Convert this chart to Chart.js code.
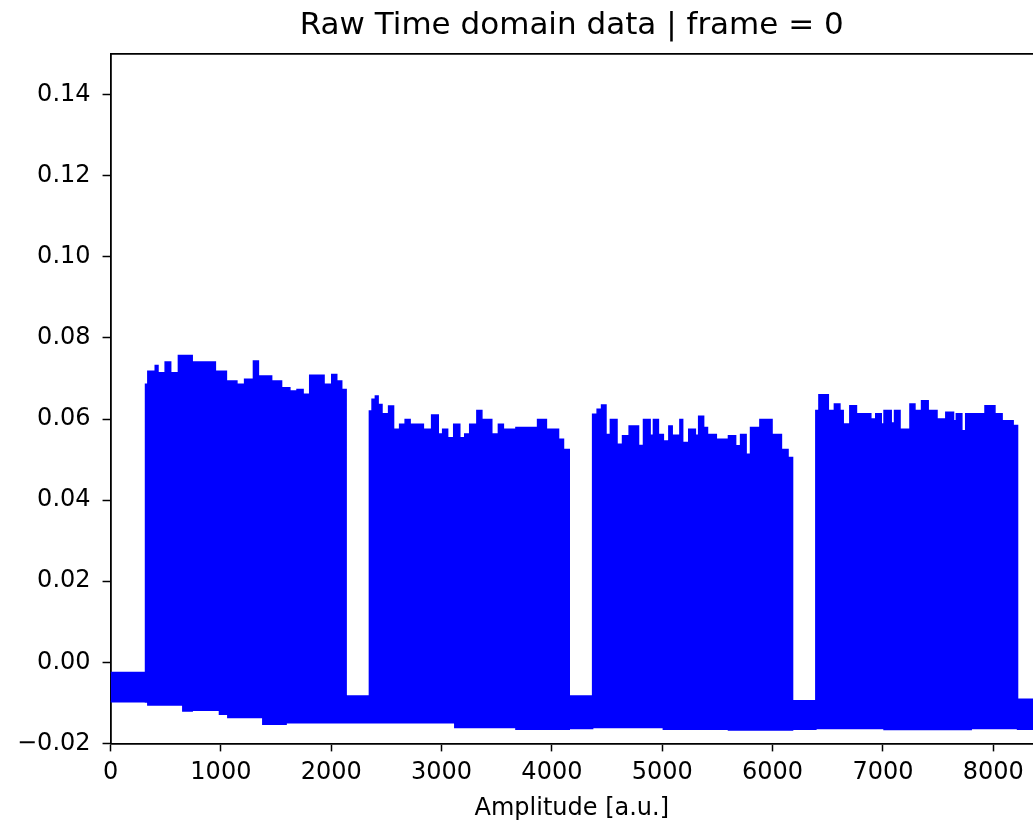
<!DOCTYPE html>
<html>
<head>
<meta charset="utf-8">
<script src="https://cdn.jsdelivr.net/npm/chart.js@4"></script>
<style>
  html, body { margin: 0; padding: 0; background: #fff; }
</style>
</head>
<body>
<canvas id="timeChart" width="1033" height="823"></canvas>
<script>
// envelope of the raw signal (sample index -> amplitude)
const sampleX = [
  0, 317, 338, 405, 430, 495, 545, 615, 655, 740, 950, 987, 1050, 1063, 1145, 1215, 1295, 1340, 1380, 1460, 1550, 1591, 1625, 1690, 1745, 1805, 1935, 2005, 2050, 2095,
  2135, 2346, 2370, 2400, 2425, 2460, 2520, 2565, 2620, 2670, 2715, 2835, 2910, 2970, 3010, 3055, 3110, 3120, 3165, 3210, 3255, 3320, 3365, 3455, 3515, 3560, 3674, 3870, 3950, 4060, 4105,
  4157, 4369, 4410, 4450, 4490, 4530, 4590, 4640, 4700, 4785, 4830, 4890, 4920, 4965, 5010, 5060, 5090, 5160, 5185, 5240, 5300, 5330, 5375, 5410, 5490, 5600, 5665, 5710, 5760, 5800, 5885, 5995, 6080, 6140,
  6181, 6392, 6420, 6505, 6560, 6610, 6640, 6700, 6760, 6890, 6935, 6985, 7010, 7075, 7105, 7155, 7245, 7290, 7350, 7410, 7490, 7570, 7640, 7665, 7715, 7750, 7800, 7925, 8015, 8080, 8180, 8220, 8360
];
const upperEnv = [
  -0.0025, 0.0686, 0.0718, 0.0732, 0.0714, 0.0741, 0.0714, 0.0757, 0.0757, 0.0741, 0.0718, 0.0718, 0.0694, 0.0694, 0.0686, 0.0698, 0.0743, 0.0706, 0.0706, 0.0694, 0.0677, 0.0677, 0.0669, 0.0673, 0.0661, 0.0708, 0.0686, 0.0710, 0.0694, 0.0673,
  -0.0083, 0.0620, 0.0649, 0.0657, 0.0636, 0.0613, 0.0632, 0.0575, 0.0587, 0.0599, 0.0587, 0.0575, 0.0610, 0.0563, 0.0575, 0.0554, 0.0587, 0.0587, 0.0554, 0.0563, 0.0587, 0.0621, 0.0599, 0.0563, 0.0587, 0.0575, 0.0579, 0.0599, 0.0575, 0.0550, 0.0525,
  -0.0083, 0.0612, 0.0624, 0.0635, 0.0562, 0.0599, 0.0538, 0.0559, 0.0583, 0.0535, 0.0599, 0.0560, 0.0599, 0.0562, 0.0546, 0.0583, 0.0560, 0.0599, 0.0542, 0.0575, 0.0560, 0.0607, 0.0579, 0.0562, 0.0550, 0.0559, 0.0534, 0.0562, 0.0513, 0.0579, 0.0599, 0.0562, 0.0525, 0.0505,
  -0.0095, 0.0621, 0.0660, 0.0621, 0.0637, 0.0621, 0.0588, 0.0633, 0.0613, 0.0600, 0.0613, 0.0588, 0.0621, 0.0590, 0.0621, 0.0575, 0.0637, 0.0621, 0.0645, 0.0621, 0.0600, 0.0617, 0.0596, 0.0613, 0.0571, 0.0613, 0.0613, 0.0633, 0.0613, 0.0596, 0.0584, -0.0091, -0.0091
];
const lowerEnv = [
  -0.0097, -0.0098, -0.0105, -0.0105, -0.0105, -0.0105, -0.0105, -0.0105, -0.0120, -0.0118, -0.0118, -0.0128, -0.0128, -0.0136, -0.0136, -0.0136, -0.0136, -0.0136, -0.0153, -0.0153, -0.0153, -0.0149, -0.0149, -0.0149, -0.0149, -0.0149, -0.0149, -0.0149, -0.0149, -0.0149,
  -0.0149, -0.0149, -0.0149, -0.0149, -0.0149, -0.0149, -0.0149, -0.0149, -0.0149, -0.0149, -0.0149, -0.0149, -0.0149, -0.0149, -0.0149, -0.0149, -0.0149, -0.0161, -0.0161, -0.0161, -0.0161, -0.0161, -0.0161, -0.0161, -0.0161, -0.0161, -0.0165, -0.0165, -0.0165, -0.0165, -0.0165,
  -0.0163, -0.0161, -0.0161, -0.0161, -0.0161, -0.0161, -0.0161, -0.0161, -0.0161, -0.0161, -0.0161, -0.0161, -0.0161, -0.0161, -0.0165, -0.0165, -0.0165, -0.0165, -0.0165, -0.0165, -0.0165, -0.0165, -0.0165, -0.0165, -0.0165, -0.0167, -0.0167, -0.0167, -0.0167, -0.0167, -0.0167, -0.0167, -0.0167, -0.0167,
  -0.0165, -0.0163, -0.0163, -0.0163, -0.0163, -0.0163, -0.0163, -0.0163, -0.0163, -0.0163, -0.0163, -0.0163, -0.0166, -0.0166, -0.0166, -0.0166, -0.0166, -0.0166, -0.0166, -0.0166, -0.0166, -0.0166, -0.0166, -0.0166, -0.0166, -0.0166, -0.0163, -0.0163, -0.0163, -0.0163, -0.0163, -0.0165, -0.0165
];

const xTicks = [0, 1000, 2000, 3000, 4000, 5000, 6000, 7000, 8000];
const yTicks = [-0.02, 0.0, 0.02, 0.04, 0.06, 0.08, 0.10, 0.12, 0.14];

const blue = "#0000ff";
const font = "DejaVu Sans";

const toPoints = (ys) => sampleX.map((x, i) => ({ x: x, y: ys[i] }));

new Chart(document.getElementById("timeChart"), {
  type: "line",
  data: {
    datasets: [
      {
        data: toPoints(upperEnv),
        borderColor: blue,
        backgroundColor: blue,
        borderWidth: 1.5,
        stepped: true,
        fill: "+1",
        pointRadius: 0,
      },
      {
        data: toPoints(lowerEnv),
        borderColor: blue,
        borderWidth: 1.5,
        stepped: true,
        fill: false,
        pointRadius: 0,
      },
    ],
  },
  options: {
    responsive: false,
    animation: false,
    devicePixelRatio: 1,
    layout: { padding: { left: 5, right: 0, top: 0, bottom: 0 } },
    plugins: {
      legend: { display: false },
      tooltip: { enabled: false },
      title: {
        display: true,
        text: "Raw Time domain data | frame = 0",
        fullSize: false,
        color: "#000",
        font: { family: font, size: 31, weight: "normal" },
        padding: { top: 7, bottom: 10 },
      },
    },
    scales: {
      x: {
        type: "linear",
        min: 0,
        max: 8360,
        afterBuildTicks: (scale) => {
          scale.ticks = xTicks.map((v) => ({ value: v }));
        },
        ticks: {
          color: "#000",
          font: { family: font, size: 24 },
          padding: 7,
          maxRotation: 0,
          callback: (v) => String(v),
        },
        grid: {
          drawOnChartArea: false,
          tickLength: 8,
          tickColor: "#000",
          tickWidth: 1.5,
        },
        border: { color: "#000", width: 1.8 },
        title: {
          display: true,
          text: "Amplitude [a.u.]",
          color: "#000",
          font: { family: font, size: 24 },
          padding: { top: 0, bottom: 0 },
        },
      },
      x2: {
        type: "linear",
        position: "top",
        min: 0,
        max: 8360,
        ticks: { display: false },
        grid: { display: false, drawTicks: false },
        border: { display: true, color: "#000", width: 1.8 },
      },
      y: {
        min: -0.02,
        max: 0.15,
        afterBuildTicks: (scale) => {
          scale.ticks = yTicks.map((v) => ({ value: v }));
        },
        ticks: {
          color: "#000",
          font: { family: font, size: 24 },
          padding: 12,
          callback: (v) => v.toFixed(2).replace("-", "\u2212"),
        },
        grid: {
          drawOnChartArea: false,
          tickLength: 8,
          tickColor: "#000",
          tickWidth: 1.5,
        },
        border: { color: "#000", width: 1.8 },
      },
    },
  },
});
</script>
</body>
</html>
